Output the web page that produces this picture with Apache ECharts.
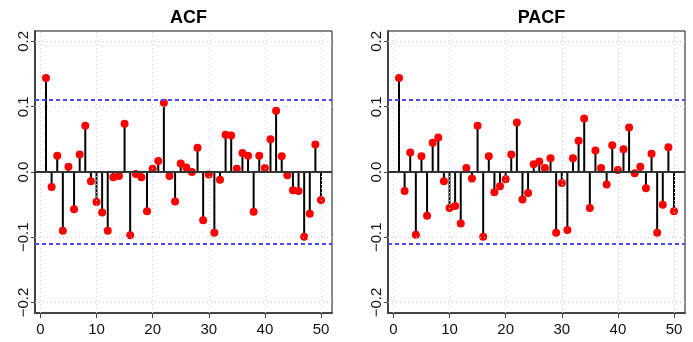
<!DOCTYPE html>
<html>
<head>
<meta charset="utf-8">
<script src="https://cdn.jsdelivr.net/npm/echarts@6/dist/echarts.min.js"></script>
<style>
  html, body { margin: 0; padding: 0; background: #fff; }
  #chart { width: 693px; height: 342px; }
</style>
</head>
<body>
<div id="chart"></div>
<script>
const lags = [1, 2, 3, 4, 5, 6, 7, 8, 9, 10, 11, 12, 13, 14, 15, 16, 17, 18, 19, 20,
  21, 22, 23, 24, 25, 26, 27, 28, 29, 30, 31, 32, 33, 34, 35, 36, 37, 38, 39, 40,
  41, 42, 43, 44, 45, 46, 47, 48, 49, 50]
const acfValues = [0.144, -0.023, 0.025, -0.090, 0.008, -0.057, 0.027, 0.071, -0.014, -0.046,
  -0.062, -0.090, -0.008, -0.006, 0.074, -0.097, -0.003, -0.008, -0.060, 0.005,
  0.017, 0.106, -0.006, -0.045, 0.013, 0.007, 0.000, 0.037, -0.074, -0.004,
  -0.093, -0.012, 0.057, 0.056, 0.005, 0.029, 0.025, -0.061, 0.025, 0.006,
  0.050, 0.094, 0.024, -0.005, -0.028, -0.029, -0.099, -0.064, 0.042, -0.043]
const pacfValues = [0.144, -0.029, 0.030, -0.096, 0.024, -0.067, 0.045, 0.053, -0.014, -0.055,
  -0.052, -0.079, 0.006, -0.010, 0.071, -0.099, 0.024, -0.031, -0.022, -0.011,
  0.027, 0.076, -0.042, -0.032, 0.012, 0.016, 0.006, 0.021, -0.093, -0.017,
  -0.089, 0.021, 0.048, 0.082, -0.055, 0.033, 0.006, -0.019, 0.041, 0.003,
  0.035, 0.068, -0.002, 0.008, -0.025, 0.028, -0.093, -0.050, 0.038, -0.060]
const ciBound = 0.1126
const xTicks = [0, 10, 20, 30, 40, 50]
const yTicks = [-0.2, -0.1, 0, 0.1, 0.2]
const titles = ['ACF', 'PACF']

const font = "'Liberation Sans', Arial, sans-serif"
const panels = [
  { left: 35, values: acfValues },
  { left: 388, values: pacfValues },
]

const fmtY = v => v === 0 ? '0.0' : (v < 0 ? '\u2212' : '') + Math.abs(v).toFixed(1)

const myChart = echarts.init(document.getElementById('chart'), null, { renderer: 'canvas' })

const option = {
  animation: false,
  backgroundColor: '#fff',
  textStyle: { fontFamily: font },
  title: titles.map((t, i) => ({
    text: t,
    left: panels[i].left + 148.5,
    top: 4,
    textAlign: 'center',
    textStyle: { fontSize: 18, fontWeight: 'bold', color: '#000', fontFamily: font },
  })),
  grid: panels.map(p => ({
    left: p.left,
    top: 31,
    width: 297,
    height: 282,
    show: true,
    borderColor: '#111',
    borderWidth: 1,
    backgroundColor: 'transparent',
  })),
  xAxis: panels.map((p, i) => ({
    type: 'value',
    gridIndex: i,
    min: -0.96,
    max: 51.96,
    splitLine: { show: false },
    axisLine: { show: true, onZero: false, lineStyle: { color: '#444', width: 2 } },
    axisTick: { show: true, length: 5, customValues: xTicks, lineStyle: { color: '#444' } },
    axisLabel: { customValues: xTicks, margin: 9, fontSize: 15, color: '#111', fontFamily: font },
  })),
  yAxis: panels.map((p, i) => ({
    type: 'value',
    gridIndex: i,
    min: -0.216,
    max: 0.216,
    splitLine: { show: false },
    axisLine: { show: true, onZero: false, lineStyle: { color: '#444', width: 2 } },
    axisTick: { show: true, length: 4, customValues: yTicks, lineStyle: { color: '#444' } },
    axisLabel: {
      customValues: yTicks, rotate: 90, margin: 4, fontSize: 15, color: '#111',
      fontFamily: font, formatter: fmtY,
    },
  })),
  series: [],
}

panels.forEach((p, i) => {
  const pairs = lags.map((l, k) => [l, p.values[k]])
  const gridLines = [
    ...xTicks.map(v => ({ xAxis: v })),
    ...yTicks.map(v => ({ yAxis: v })),
  ]
  option.series.push({
    type: 'line',
    xAxisIndex: i,
    yAxisIndex: i,
    data: [],
    z: 1,
    silent: true,
    markLine: {
      silent: true,
      symbol: 'none',
      label: { show: false },
      animation: false,
      lineStyle: { color: '#cfcfcf', type: [1, 3], width: 1 },
      data: gridLines,
    },
  })
  option.series.push({
    type: 'line',
    xAxisIndex: i,
    yAxisIndex: i,
    data: [],
    z: 2,
    silent: true,
    markLine: {
      silent: true,
      symbol: 'none',
      label: { show: false },
      animation: false,
      data: [
        { yAxis: 0, lineStyle: { color: '#333', type: 'solid', width: 2 } },
        { yAxis: ciBound, lineStyle: { color: '#4a4aff', type: [4, 3], width: 2 } },
        { yAxis: -ciBound, lineStyle: { color: '#4a4aff', type: [4, 3], width: 2 } },
      ],
    },
  })
  option.series.push({
    type: 'bar',
    xAxisIndex: i,
    yAxisIndex: i,
    data: pairs,
    barWidth: 2,
    z: 3,
    itemStyle: { color: '#000' },
  })
  option.series.push({
    type: 'scatter',
    xAxisIndex: i,
    yAxisIndex: i,
    data: pairs,
    symbolSize: 8,
    z: 4,
    itemStyle: { color: '#ff0000', opacity: 1 },
  })
})

myChart.setOption(option)
</script>
</body>
</html>
